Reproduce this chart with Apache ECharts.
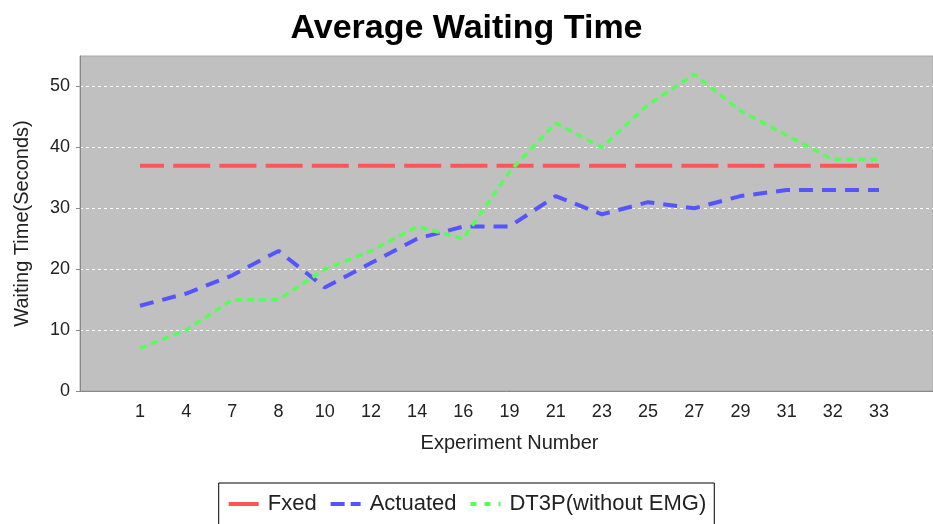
<!DOCTYPE html>
<html>
<head>
<meta charset="utf-8">
<title>Average Waiting Time</title>
<script src="https://cdn.jsdelivr.net/npm/echarts@6/dist/echarts.min.js"></script>
<style>
  html, body { margin: 0; padding: 0; background: #fff; }
  #chart { width: 933px; height: 524px; }
</style>
</head>
<body>
<div id="chart"></div>
<script>
// experiment numbers on the x axis
const categories = ['1', '4', '7', '8', '10', '12', '14', '16', '19', '21', '23', '25', '27', '29', '31', '32', '33'];

// waiting time in seconds
const fixedTimes = [37, 37, 37, 37, 37, 37, 37, 37, 37, 37, 37, 37, 37, 37, 37, 37, 37];
const actuatedTimes = [14, 16, 19, 23, 17, 21, 25, 27, 27, 32, 29, 31, 30, 32, 33, 33, 33];
const dt3pTimes = [7, 10, 15, 15, 20, 23, 27, 25, 36, 44, 40, 47, 52, 46, 42, 38, 38];

// y axis range / tick step
const yMin = 0;
const yMax = 55;
const yStep = 10;

const font = 'Liberation Sans, Arial, sans-serif';

var chart = echarts.init(document.getElementById('chart'), null, { renderer: 'canvas' });

var option = {
  animation: false,
  title: {
    text: 'Average Waiting Time',
    left: 'center',
    top: 12,
    padding: 0,
    textStyle: { fontFamily: font, fontWeight: 'bold', fontSize: 34, color: '#000' }
  },
  legend: {
    data: [
      { name: 'Fxed', lineStyle: { width: 4, type: 'solid' } },
      { name: 'Actuated', lineStyle: { width: 4, type: [14, 6] } },
      { name: 'DT3P(without EMG)', lineStyle: { width: 4, type: [6, 8] } }
    ],
    left: 'center',
    top: 483,
    padding: [10, 8],
    itemGap: 12,
    itemWidth: 30,
    itemHeight: 14,
    borderColor: '#000',
    borderWidth: 1,
    itemStyle: { opacity: 0 },   // only the dashed line, no dot
    textStyle: { fontFamily: font, fontSize: 22, color: '#222', padding: [0, 0, 0, 4] }
  },
  grid: [
    // gray plot background, carries the y axis and grid lines
    { left: 80, right: 0, top: 56, bottom: 133, show: true, backgroundColor: '#c0c0c0', borderColor: '#a8a8a8', borderWidth: 1 },
    // inner area where the categories sit
    { left: 140, right: 54, top: 56, bottom: 133 }
  ],
  xAxis: [
    {
      gridIndex: 0,
      type: 'value',
      min: 0,
      max: 1,
      axisLine: { show: true, lineStyle: { color: '#888', width: 1 } },
      axisTick: { show: false },
      axisLabel: { show: false },
      splitLine: { show: false }
    },
    {
      gridIndex: 1,
      type: 'category',
      data: categories,
      boundaryGap: false,
      name: 'Experiment Number',
      nameLocation: 'middle',
      nameGap: 42,
      nameTextStyle: { fontFamily: font, fontSize: 20, color: '#222' },
      axisLine: { show: false },
      axisTick: { show: false },
      axisLabel: { fontFamily: font, fontSize: 18, color: '#222', margin: 12 },
      splitLine: { show: false }
    }
  ],
  yAxis: [
    {
      gridIndex: 0,
      type: 'value',
      min: yMin,
      max: yMax,
      interval: yStep,
      name: 'Waiting Time(Seconds)',
      nameLocation: 'middle',
      nameGap: 48,
      nameTextStyle: { fontFamily: font, fontSize: 20, color: '#222' },
      axisLine: { show: true, lineStyle: { color: '#888', width: 1 } },
      axisTick: { show: true, length: 4, lineStyle: { color: '#888' } },
      axisLabel: { fontFamily: font, fontSize: 18, color: '#222', margin: 10, showMaxLabel: false },
      splitLine: {
        show: true,
        showMinLine: false,
        showMaxLine: false,
        lineStyle: { color: '#ffffff', width: 1, type: [3, 3] }
      }
    },
    {
      gridIndex: 1,
      type: 'value',
      min: yMin,
      max: yMax,
      interval: yStep,
      show: false
    }
  ],
  series: [
    {
      name: 'Fxed',
      type: 'line',
      xAxisIndex: 1,
      yAxisIndex: 1,
      data: fixedTimes,
      symbol: 'none',
      color: '#ff5555',
      lineStyle: { width: 4, type: [37, 9.2], dashOffset: 13 }
    },
    {
      name: 'Actuated',
      type: 'line',
      xAxisIndex: 1,
      yAxisIndex: 1,
      data: actuatedTimes,
      symbol: 'none',
      color: '#5555ff',
      lineStyle: { width: 4, type: [14, 9] }
    },
    {
      name: 'DT3P(without EMG)',
      type: 'line',
      xAxisIndex: 1,
      yAxisIndex: 1,
      data: dt3pTimes,
      symbol: 'none',
      color: '#55ff55',
      lineStyle: { width: 3.5, type: [7, 5] }
    }
  ]
};

chart.setOption(option);
</script>
</body>
</html>
